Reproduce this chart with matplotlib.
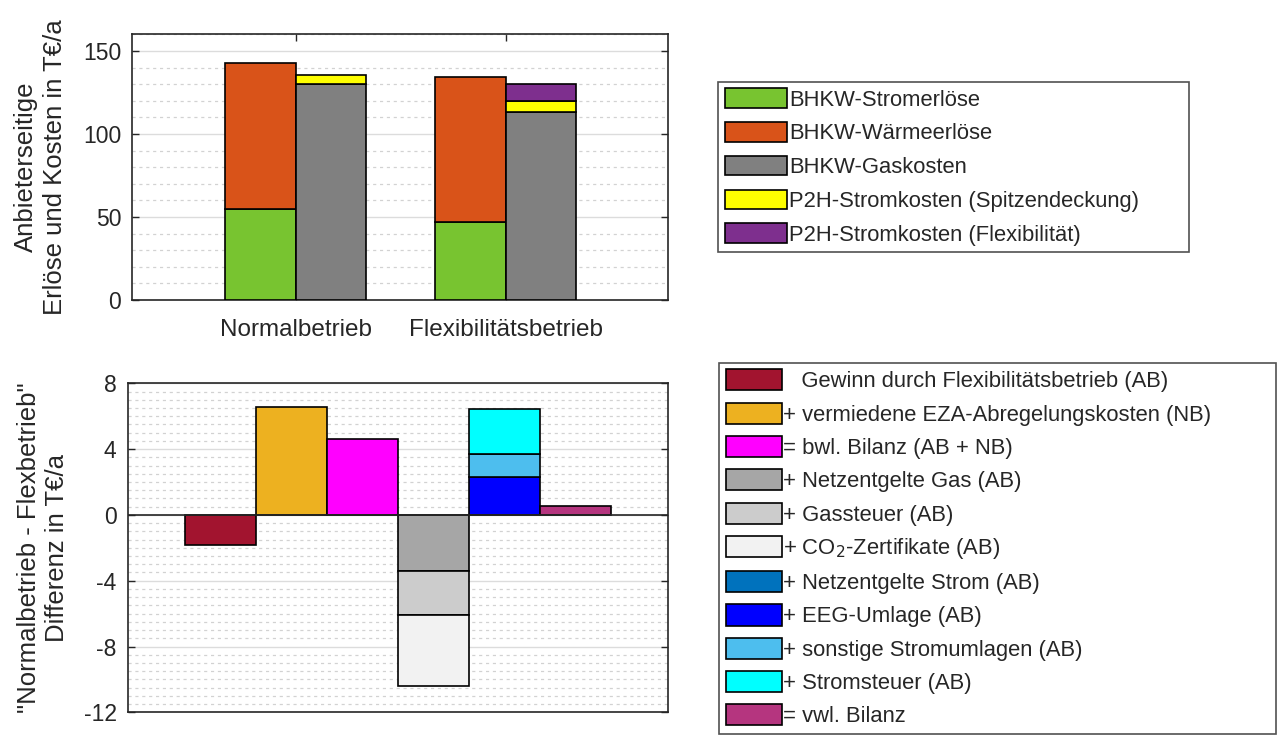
import matplotlib.pyplot as plt
import numpy as np
from matplotlib.patches import Patch
from matplotlib.ticker import MultipleLocator

plt.rcParams['font.family'] = ['Liberation Sans', 'DejaVu Sans']
plt.rcParams['axes.unicode_minus'] = False

# top chart: revenues / costs per operating mode
modes = ['Normalbetrieb', 'Flexibilitätsbetrieb']
strom_erloese = [55.0, 46.8]
waerme_erloese = [87.6, 87.4]
gas_kosten = [130.0, 113.2]
p2h_spitze = [5.6, 6.4]
p2h_flex = [0.0, 10.4]

top_labels = ['BHKW-Stromerlöse', 'BHKW-Wärmeerlöse', 'BHKW-Gaskosten',
              'P2H-Stromkosten (Spitzendeckung)', 'P2H-Stromkosten (Flexibilität)']
top_colors = ['#78C430', '#D95319', '#808080', '#FFFF00', '#7E2F8E']

# bottom chart: differences Normalbetrieb - Flexbetrieb
gewinn = -1.86
vermiedene = 6.58
bwl = 4.64
gas_parts = [-3.44, -2.62, -4.36]          # Netzentgelte Gas, Gassteuer, CO2
strom_parts = [0.0, 2.30, 1.42, 2.70]      # Netzentgelte Strom, EEG, sonstige, Stromsteuer
vwl = 0.56

bot_labels = ['   Gewinn durch Flexibilitätsbetrieb (AB)',
              '+ vermiedene EZA-Abregelungskosten (NB)',
              '= bwl. Bilanz (AB + NB)',
              '+ Netzentgelte Gas (AB)',
              '+ Gassteuer (AB)',
              '+ CO$_2$-Zertifikate (AB)',
              '+ Netzentgelte Strom (AB)',
              '+ EEG-Umlage (AB)',
              '+ sonstige Stromumlagen (AB)',
              '+ Stromsteuer (AB)',
              '= vwl. Bilanz']
bot_colors = ['#A2142F', '#EDB120', '#FF00FF', '#A6A6A6', '#CCCCCC', '#F2F2F2',
              '#0072BD', '#0000FF', '#4DBEEE', '#00FFFF', '#B5357F']

W, H = 1277, 740
fig = plt.figure(figsize=(W / 100, H / 100), dpi=100)

ax1 = fig.add_axes([132.3 / W, 1 - 300 / H, 535.7 / W, 265.7 / H])
ax2 = fig.add_axes([127.7 / W, 1 - 712.3 / H, 540 / W, 329 / H])

txt = '#262626'
ekw = dict(edgecolor='black', linewidth=1.2, zorder=3)

# ---- top
x = np.arange(1, len(modes) + 1)
bw = 0.336
left = x - bw / 2
right = x + bw / 2
ax1.bar(left, strom_erloese, bw, color=top_colors[0], **ekw)
ax1.bar(left, waerme_erloese, bw, bottom=strom_erloese, color=top_colors[1], **ekw)
ax1.bar(right, gas_kosten, bw, color=top_colors[2], **ekw)
ax1.bar(right, p2h_spitze, bw, bottom=gas_kosten, color=top_colors[3], **ekw)
ax1.bar(right[1:], p2h_flex[1:], bw, bottom=np.add(gas_kosten, p2h_spitze)[1:],
        color=top_colors[4], **ekw)

ax1.set_xlim(0.22, 2.775)
ax1.set_ylim(0, 160)
ax1.set_xticks(x)
ax1.set_xticklabels(modes)
ax1.set_yticks([0, 50, 100, 150])
ax1.yaxis.set_minor_locator(MultipleLocator(10))
ax1.set_ylabel('Anbieterseitige\nErlöse und Kosten in T€/a', fontsize=18.5, color=txt,
               linespacing=1.25)
ax1.yaxis.set_label_coords(-0.122, 0.5)

# ---- bottom
ax2.bar(1, gewinn, 1.0, color=bot_colors[0], **ekw)
ax2.bar(2, vermiedene, 1.0, color=bot_colors[1], **ekw)
ax2.bar(3, bwl, 1.0, color=bot_colors[2], **ekw)
base = 0.0
for val, col in zip(gas_parts, bot_colors[3:6]):
    ax2.bar(4, val, 1.0, bottom=base, color=col, **ekw)
    base += val
base = 0.0
for val, col in zip(strom_parts, bot_colors[6:10]):
    if val != 0:
        ax2.bar(5, val, 1.0, bottom=base, color=col, **ekw)
    base += val
ax2.bar(6, vwl, 1.0, color=bot_colors[10], **ekw)
ax2.axhline(0, color='#262626', linewidth=1.2, zorder=4)

ax2.set_xlim(-0.3, 7.3)
ax2.set_ylim(-12, 8)
ax2.set_xticks([])
ax2.set_yticks([-12, -8, -4, 0, 4, 8])
ax2.yaxis.set_minor_locator(MultipleLocator(0.5))
ax2.set_ylabel('"Normalbetrieb - Flexbetrieb"\nDifferenz in T€/a', fontsize=18.5, color=txt,
               linespacing=1.25)
ax2.yaxis.set_label_coords(-0.108, 0.5)

for ax in (ax1, ax2):
    ax.set_axisbelow(True)
    ax.grid(True, which='major', axis='y', color='#dcdcdc', linewidth=1.0, linestyle='-')
    ax.grid(True, which='minor', axis='y', color='#d2d2d2', linewidth=0.9, linestyle=(0, (2.5, 3)))
    ax.tick_params(which='major', direction='in', top=True, right=True, length=5,
                   labelsize=16.5, labelcolor=txt, color=txt, width=1.0)
    ax.tick_params(which='minor', length=0)
    ax.tick_params(axis='y', pad=8)
    for s in ax.spines.values():
        s.set_color('#262626')
        s.set_linewidth(1.2)
ax1.tick_params(axis='x', pad=14, labelsize=17.5)

# ---- legends (boxes stretched to the reference width)
h1 = [Patch(facecolor=c, edgecolor='black', linewidth=1.2) for c in top_colors]
leg1 = fig.legend(h1, top_labels, loc='upper left',
                  bbox_to_anchor=(718 / W, 1 - 81.7 / H, 471 / W, 0), mode='expand',
                  fontsize=15.8, handlelength=2.85, handleheight=1.0, handletextpad=0.1,
                  labelspacing=0.52, borderpad=0.3, borderaxespad=0, frameon=True,
                  fancybox=False, edgecolor='#262626', labelcolor=txt)
leg1.get_frame().set_linewidth(1.2)

h2 = [Patch(facecolor=c, edgecolor='black', linewidth=1.2) for c in bot_colors]
leg2 = fig.legend(h2, bot_labels, loc='upper left',
                  bbox_to_anchor=(719 / W, 1 - 362.7 / H, 557 / W, 0), mode='expand',
                  fontsize=15.8, handlelength=2.55, handleheight=1.1, handletextpad=0.08,
                  labelspacing=0.47, borderpad=0.3, borderaxespad=0, frameon=True,
                  fancybox=False, edgecolor='#262626', labelcolor=txt)
leg2.get_frame().set_linewidth(1.2)

plt.savefig('out.png', dpi=100)
